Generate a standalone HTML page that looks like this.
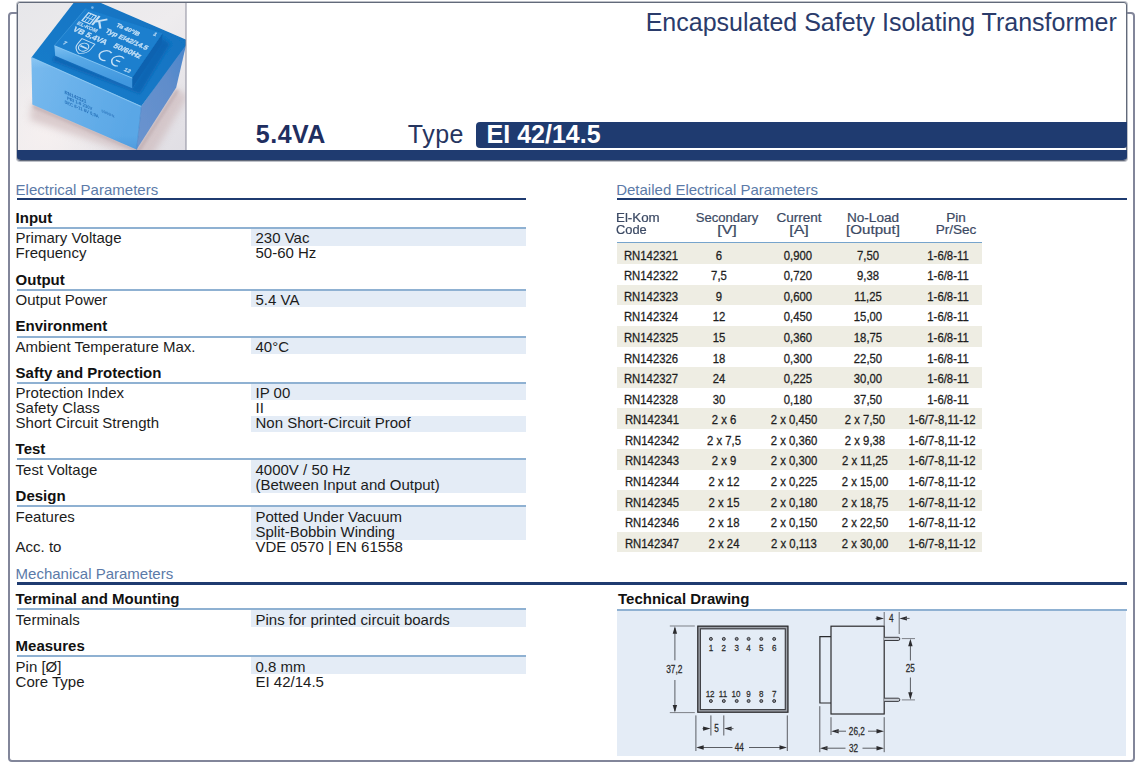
<!DOCTYPE html>
<html><head><meta charset="utf-8"><title>Encapsulated Safety Isolating Transformer</title>
<style>
html,body{margin:0;padding:0;background:#fff;}
body{width:1144px;height:772px;position:relative;overflow:hidden;font-family:"Liberation Sans",sans-serif;}
.t{position:absolute;white-space:nowrap;}
.r{position:absolute;}
.n{position:absolute;white-space:nowrap;font-size:13.33px;line-height:14px;color:#1e1e1e;transform:translateX(-50%) scaleX(0.85);-webkit-text-stroke:0.3px #1e1e1e;}
.h{position:absolute;white-space:nowrap;font-size:12px;line-height:12px;color:#3b4963;text-align:center;-webkit-text-stroke:0.2px #3b4963;}
</style></head><body>

<div class="r" style="left:8px;top:12px;width:1123px;height:746px;border:2px solid #82869a;border-radius:4px;"></div>
<div class="r" style="left:17px;top:2px;width:1108px;height:157px;border:1px solid #626a7a;border-radius:3px;background:#fff;box-shadow:0 0 0 1px rgba(125,132,146,0.5);"></div>
<svg class="r" style="left:18px;top:3px;border-radius:2px 0 0 0;" width="169" height="147" viewBox="18 3 169 147" font-family="Liberation Sans, sans-serif">
<defs>
<linearGradient id="bg" x1="0" y1="0" x2="1" y2="1"><stop offset="0" stop-color="#e7e7ea"/><stop offset="0.5" stop-color="#eeecee"/><stop offset="1" stop-color="#e0dee4"/></linearGradient>
<linearGradient id="front" x1="0" y1="0" x2="1" y2="0.3"><stop offset="0" stop-color="#78baee"/><stop offset="0.5" stop-color="#68b0ea"/><stop offset="1" stop-color="#5aa7e6"/></linearGradient>
<linearGradient id="frontv" x1="0" y1="0" x2="0" y2="1"><stop offset="0" stop-color="#9bd0f6" stop-opacity="0.55"/><stop offset="0.12" stop-color="#9bd0f6" stop-opacity="0"/><stop offset="0.85" stop-color="#3a86cf" stop-opacity="0"/><stop offset="1" stop-color="#3a86cf" stop-opacity="0.35"/></linearGradient>
<linearGradient id="right" x1="0" y1="1" x2="1" y2="0"><stop offset="0" stop-color="#6b94cf"/><stop offset="0.6" stop-color="#608dcb"/><stop offset="1" stop-color="#4785cc"/></linearGradient>
<linearGradient id="top" x1="0" y1="1" x2="1" y2="0"><stop offset="0" stop-color="#187ecc"/><stop offset="1" stop-color="#1071c0"/></linearGradient>
<linearGradient id="bfront" x1="0" y1="0" x2="0.15" y2="1"><stop offset="0" stop-color="#7cc0f2"/><stop offset="0.35" stop-color="#57a8e6"/><stop offset="1" stop-color="#3f96de"/></linearGradient>
<filter id="b0" x="-10%" y="-10%" width="120%" height="120%"><feGaussianBlur stdDeviation="0.42"/></filter>
<filter id="b1" x="-10%" y="-10%" width="120%" height="120%"><feGaussianBlur stdDeviation="0.55"/></filter>
<filter id="b3" x="-30%" y="-30%" width="160%" height="160%"><feGaussianBlur stdDeviation="3.5"/></filter>
<filter id="b2" x="-30%" y="-30%" width="160%" height="160%"><feGaussianBlur stdDeviation="1.6"/></filter>
<radialGradient id="hl" cx="45" cy="135" r="70" gradientUnits="userSpaceOnUse"><stop offset="0" stop-color="#f6f0f0" stop-opacity="0.95"/><stop offset="1" stop-color="#f6f0f0" stop-opacity="0"/></radialGradient>
<clipPath id="cp"><rect x="18" y="3" width="168" height="147"/></clipPath>
</defs>
<g clip-path="url(#cp)">
<rect x="18" y="3" width="169" height="147" fill="url(#bg)"/><rect x="18" y="3" width="169" height="147" fill="url(#hl)"/>
<polygon points="32,102 137,148 176,89 188,96 150,160 30,120" fill="#c9b4b6" opacity="0.6" filter="url(#b3)"/>
<polygon points="33,104 137,149 176,89 179,91 139,153 33,108" fill="#b09a9e" opacity="0.55" filter="url(#b2)"/>
<g filter="url(#b1)">
<polygon points="31.4,57.4 141.3,106.3 136.6,149.6 32.3,104.6" fill="url(#front)"/>
<polygon points="31.4,57.4 141.3,106.3 136.6,149.6 32.3,104.6" fill="url(#frontv)"/>
<polygon points="141.3,106.3 187,41 182.6,60 176.2,87.5 136.6,149.6" fill="url(#right)"/>
<polygon points="31.4,57.4 80.4,-5.9 189,41 141.3,106.3" fill="url(#top)"/>
<polygon points="55,55 132,88 162,38 170,44 140,94 52,61" fill="#0d5aa8" opacity="0.6" filter="url(#b2)"/>
<polygon points="132.2,77.8 162.6,33.2 161.6,43.6 132.2,88.2" fill="#1162b0"/>
<polygon points="54.4,45.5 132.2,77.8 132.2,88.2 55.2,55.8" fill="url(#bfront)"/>
<polygon points="54.4,45.5 85.7,8.6 162.6,33.2 132.2,77.8" fill="#1a7fce"/>
<polyline points="31.4,57.6 141.3,106.5" stroke="#8fcaf5" stroke-width="1.1" fill="none" opacity="0.8"/>
<polyline points="54.4,45.7 132.2,78" stroke="#8ccaf6" stroke-width="1" fill="none" opacity="0.85"/>
<polyline points="54.4,45.5 85.7,8.6" stroke="#4c9fe0" stroke-width="0.8" fill="none" opacity="0.7"/>
<polyline points="141.3,106.3 136.6,149.6" stroke="#3d83cc" stroke-width="1" fill="none" opacity="0.6"/>
</g>
<g filter="url(#b0)">
<text transform="matrix(0.917,0.40,0,1,64.5,93.8)" font-size="5.0" font-weight="bold" fill="#1c66b0" opacity="0.9">RN142321</text>
<text transform="matrix(0.917,0.40,0,1,67.0,99.4)" font-size="4.6" font-weight="bold" fill="#1c66b0" opacity="0.85">PRI 1-6 230V</text>
<text transform="matrix(0.917,0.40,0,1,64.5,103.2)" font-size="4.6" font-weight="bold" fill="#1c66b0" opacity="0.85">SEC 8-11 6V 0,9A</text>
<text transform="matrix(0.917,0.40,0,1,101.5,112.0)" font-size="3.8" font-weight="bold" fill="#1c66b0" opacity="0.75">50/60Hz</text>
</g>
<g filter="url(#b0)">
<text transform="matrix(0.917,0.40,-0.60,0.72,72.3,30.6)" font-size="8.2" font-weight="bold" fill="#d6eafa" stroke="#d6eafa" stroke-width="0.28" opacity="0.9" letter-spacing="0">VB 5.4VA</text>
<text transform="matrix(0.917,0.40,-0.60,0.72,104.8,32.0)" font-size="7.2" font-weight="bold" fill="#d6eafa" stroke="#d6eafa" stroke-width="0.28" opacity="0.9" letter-spacing="0">Typ EI42/14.5</text>
<text transform="matrix(0.917,0.40,-0.60,0.72,115.6,26.2)" font-size="6.4" font-weight="bold" fill="#d6eafa" stroke="#d6eafa" stroke-width="0.28" opacity="0.9" letter-spacing="0">Ta 40°/B</text>
<text transform="matrix(0.917,0.40,-0.60,0.72,112.8,47.0)" font-size="7.8" font-weight="bold" fill="#d6eafa" stroke="#d6eafa" stroke-width="0.28" opacity="0.9" letter-spacing="0">50/60Hz</text>
<text transform="matrix(0.917,0.40,-0.60,0.72,62.4,43.8)" font-size="5.5" font-weight="bold" fill="#d6eafa" stroke="#d6eafa" stroke-width="0.28" opacity="0.8" letter-spacing="0">7</text>
<text transform="matrix(0.917,0.40,-0.60,0.72,152.8,35.0)" font-size="5.5" font-weight="bold" fill="#d6eafa" stroke="#d6eafa" stroke-width="0.28" opacity="0.8" letter-spacing="0">1</text>
<text transform="matrix(0.917,0.40,-0.60,0.72,123.6,70.6)" font-size="5.5" font-weight="bold" fill="#d6eafa" stroke="#d6eafa" stroke-width="0.28" opacity="0.8" letter-spacing="0">12</text>
<text transform="matrix(0.917,0.40,-0.60,0.72,76.6,24.0)" font-size="5.4" font-weight="bold" fill="#d6eafa" stroke="#d6eafa" stroke-width="0.28" opacity="0.8" letter-spacing="0">EL-KOM</text>
<circle cx="92.4" cy="7.6" r="1.3" fill="#8fc4f0" opacity="0.8"/>
<g transform="matrix(0.917,0.40,-0.60,0.72,82.0,20.6)" fill="none" stroke="#d6eafa" stroke-width="1.3" opacity="0.9"><rect x="0" y="-11" width="8.5" height="11"/><path d="M2.8 -11V0 M5.7 -11V0 M0 -5.5H8.5" stroke-width="0.8"/><path d="M11 -12.5V0 M19.5 -12.5L11.6 -5 M14 -7.2L20 0" stroke-width="2"/></g>
<g transform="matrix(0.917,0.40,-0.60,0.72,82.0,38.6)" fill="none" stroke="#d6eafa" stroke-width="1" opacity="0.9"><path d="M0 0H14V7.5C14 12.5 10.5 15 7 16.5C3.5 15 0 12.5 0 7.5Z"/><ellipse cx="7" cy="8" rx="4.6" ry="5"/><path d="M3.5 8H10.5" stroke-width="1.8"/></g>
<g transform="matrix(0.83,0.36,-0.54,0.65,104.6,49.4)" fill="none" stroke="#d6eafa" stroke-width="1.6" opacity="0.9"><path d="M9 0.8A6.6 6.6 0 1 0 9 12.2"/><path d="M24 0.8A6.6 6.6 0 1 0 24 12.2 M18 6.5H23"/></g>
</g>
</g>
<rect x="185.5" y="3" width="1" height="147" fill="#8b8b9b"/>
</svg>
<div class="r" style="left:17.00px;top:150.00px;width:1110.00px;height:10.00px;background:#1f3b70;border-radius:0 0 4px 4px;"></div>
<div class="r" style="left:475.50px;top:122.20px;width:651.50px;height:25.60px;background:#1f3b70;border-radius:4px 0 3px 4px;"></div>
<div class="t" style="left:645.70px;top:9.64px;font-size:25px;line-height:25px;color:#2a3b6b;">Encapsulated Safety Isolating Transformer</div>
<div class="t" style="left:255.80px;top:121.84px;font-size:25px;line-height:25px;color:#1f2e60;font-weight:bold;letter-spacing:0.5px;">5.4VA</div>
<div class="t" style="left:407.80px;top:121.84px;font-size:25px;line-height:25px;color:#26355f;letter-spacing:0.5px;">Type</div>
<div class="t" style="left:486.60px;top:122.24px;font-size:25px;line-height:25px;color:#ffffff;font-weight:bold;">EI 42/14.5</div>
<div class="t" style="left:15.60px;top:182.10px;font-size:15px;line-height:15px;color:#5b7aa8;">Electrical Parameters</div>
<div class="r" style="left:17.00px;top:198.00px;width:509.00px;height:2.20px;background:#1f3b70;"></div>
<div class="t" style="left:616.20px;top:181.80px;font-size:15px;line-height:15px;color:#5b7aa8;">Detailed Electrical Parameters</div>
<div class="r" style="left:617.00px;top:197.80px;width:510.00px;height:2.40px;background:#1f3b70;"></div>
<div class="t" style="left:15.60px;top:565.60px;font-size:15px;line-height:15px;color:#5b7aa8;">Mechanical Parameters</div>
<div class="r" style="left:17.00px;top:582.20px;width:1110.00px;height:2.40px;background:#1f3b70;"></div>
<div class="t" style="left:15.60px;top:210.00px;font-size:15px;line-height:15px;color:#111;font-weight:bold;">Input</div>
<div class="r" style="left:17.00px;top:227.10px;width:509.00px;height:2.00px;background:#8fb1d2;"></div>
<div class="r" style="left:251.00px;top:229.10px;width:275.00px;height:16.50px;background:#e4ecf6;"></div>
<div class="t" style="left:15.60px;top:230.20px;font-size:15px;line-height:15px;color:#1c1c1c;">Primary Voltage</div>
<div class="t" style="left:255.50px;top:230.20px;font-size:15px;line-height:15px;color:#1c1c1c;">230 Vac</div>
<div class="t" style="left:15.60px;top:245.20px;font-size:15px;line-height:15px;color:#1c1c1c;">Frequency</div>
<div class="t" style="left:255.50px;top:245.20px;font-size:15px;line-height:15px;color:#1c1c1c;">50-60 Hz</div>
<div class="t" style="left:15.60px;top:271.70px;font-size:15px;line-height:15px;color:#111;font-weight:bold;">Output</div>
<div class="r" style="left:17.00px;top:288.80px;width:509.00px;height:2.00px;background:#8fb1d2;"></div>
<div class="r" style="left:251.00px;top:290.80px;width:275.00px;height:16.50px;background:#e4ecf6;"></div>
<div class="t" style="left:15.60px;top:291.90px;font-size:15px;line-height:15px;color:#1c1c1c;">Output Power</div>
<div class="t" style="left:255.50px;top:291.90px;font-size:15px;line-height:15px;color:#1c1c1c;">5.4 VA</div>
<div class="t" style="left:15.60px;top:318.40px;font-size:15px;line-height:15px;color:#111;font-weight:bold;">Environment</div>
<div class="r" style="left:17.00px;top:335.50px;width:509.00px;height:2.00px;background:#8fb1d2;"></div>
<div class="r" style="left:251.00px;top:337.50px;width:275.00px;height:16.50px;background:#e4ecf6;"></div>
<div class="t" style="left:15.60px;top:338.60px;font-size:15px;line-height:15px;color:#1c1c1c;">Ambient Temperature Max.</div>
<div class="t" style="left:255.50px;top:338.60px;font-size:15px;line-height:15px;color:#1c1c1c;">40°C</div>
<div class="t" style="left:15.60px;top:364.70px;font-size:15px;line-height:15px;color:#111;font-weight:bold;">Safty and Protection</div>
<div class="r" style="left:17.00px;top:381.80px;width:509.00px;height:2.00px;background:#8fb1d2;"></div>
<div class="r" style="left:251.00px;top:383.80px;width:275.00px;height:16.50px;background:#e4ecf6;"></div>
<div class="r" style="left:251.00px;top:415.80px;width:275.00px;height:16.50px;background:#e4ecf6;"></div>
<div class="t" style="left:15.60px;top:384.90px;font-size:15px;line-height:15px;color:#1c1c1c;">Protection Index</div>
<div class="t" style="left:255.50px;top:384.90px;font-size:15px;line-height:15px;color:#1c1c1c;">IP 00</div>
<div class="t" style="left:15.60px;top:399.90px;font-size:15px;line-height:15px;color:#1c1c1c;">Safety Class</div>
<div class="t" style="left:255.50px;top:399.90px;font-size:15px;line-height:15px;color:#1c1c1c;">II</div>
<div class="t" style="left:15.60px;top:414.90px;font-size:15px;line-height:15px;color:#1c1c1c;">Short Circuit Strength</div>
<div class="t" style="left:255.50px;top:414.90px;font-size:15px;line-height:15px;color:#1c1c1c;">Non Short-Circuit Proof</div>
<div class="t" style="left:15.60px;top:441.30px;font-size:15px;line-height:15px;color:#111;font-weight:bold;">Test</div>
<div class="r" style="left:17.00px;top:458.40px;width:509.00px;height:2.00px;background:#8fb1d2;"></div>
<div class="r" style="left:251.00px;top:460.40px;width:275.00px;height:33.00px;background:#e4ecf6;"></div>
<div class="t" style="left:15.60px;top:461.50px;font-size:15px;line-height:15px;color:#1c1c1c;">Test Voltage</div>
<div class="t" style="left:255.50px;top:461.50px;font-size:15px;line-height:15px;color:#1c1c1c;">4000V / 50 Hz</div>
<div class="t" style="left:255.50px;top:476.50px;font-size:15px;line-height:15px;color:#1c1c1c;">(Between Input and Output)</div>
<div class="t" style="left:15.60px;top:488.30px;font-size:15px;line-height:15px;color:#111;font-weight:bold;">Design</div>
<div class="r" style="left:17.00px;top:505.40px;width:509.00px;height:2.00px;background:#8fb1d2;"></div>
<div class="r" style="left:251.00px;top:507.40px;width:275.00px;height:33.00px;background:#e4ecf6;"></div>
<div class="t" style="left:15.60px;top:508.50px;font-size:15px;line-height:15px;color:#1c1c1c;">Features</div>
<div class="t" style="left:255.50px;top:508.50px;font-size:15px;line-height:15px;color:#1c1c1c;">Potted Under Vacuum</div>
<div class="t" style="left:255.50px;top:523.50px;font-size:15px;line-height:15px;color:#1c1c1c;">Split-Bobbin Winding</div>
<div class="t" style="left:15.60px;top:538.50px;font-size:15px;line-height:15px;color:#1c1c1c;">Acc. to</div>
<div class="t" style="left:255.50px;top:538.50px;font-size:15px;line-height:15px;color:#1c1c1c;">VDE 0570 | EN 61558</div>
<div class="t" style="left:15.60px;top:591.30px;font-size:15px;line-height:15px;color:#111;font-weight:bold;">Terminal and Mounting</div>
<div class="r" style="left:17.00px;top:608.40px;width:509.00px;height:2.00px;background:#8fb1d2;"></div>
<div class="r" style="left:251.00px;top:610.40px;width:275.00px;height:16.50px;background:#e4ecf6;"></div>
<div class="t" style="left:15.60px;top:611.50px;font-size:15px;line-height:15px;color:#1c1c1c;">Terminals</div>
<div class="t" style="left:255.50px;top:611.50px;font-size:15px;line-height:15px;color:#1c1c1c;">Pins for printed circuit boards</div>
<div class="t" style="left:15.60px;top:638.30px;font-size:15px;line-height:15px;color:#111;font-weight:bold;">Measures</div>
<div class="r" style="left:17.00px;top:655.40px;width:509.00px;height:2.00px;background:#8fb1d2;"></div>
<div class="r" style="left:251.00px;top:657.40px;width:275.00px;height:16.50px;background:#e4ecf6;"></div>
<div class="t" style="left:15.60px;top:658.50px;font-size:15px;line-height:15px;color:#1c1c1c;">Pin [Ø]</div>
<div class="t" style="left:255.50px;top:658.50px;font-size:15px;line-height:15px;color:#1c1c1c;">0.8 mm</div>
<div class="t" style="left:15.60px;top:673.50px;font-size:15px;line-height:15px;color:#1c1c1c;">Core Type</div>
<div class="t" style="left:255.50px;top:673.50px;font-size:15px;line-height:15px;color:#1c1c1c;">EI 42/14.5</div>
<div class="t" style="left:618.00px;top:591.00px;font-size:15px;line-height:15px;color:#111;font-weight:bold;">Technical Drawing</div>
<div class="r" style="left:617.00px;top:608.90px;width:510.00px;height:2.00px;background:#8fb1d2;"></div>
<div class="r" style="left:617.00px;top:610.90px;width:509.00px;height:145.30px;background:#e4ecf6;"></div>
<div class="h" style="left:616.20px;top:212.04px;transform-origin:0 50%;transform:scaleX(1.11);">El-Kom</div>
<div class="h" style="left:616.20px;top:224.24px;transform-origin:0 50%;transform:scaleX(1.07);">Code</div>
<div class="h" style="left:726.50px;top:212.04px;transform:translateX(-50%) scaleX(1.09);">Secondary</div>
<div class="h" style="left:726.80px;top:224.24px;transform:translateX(-50%) scaleX(1.34);">[V]</div>
<div class="h" style="left:799.00px;top:212.04px;transform:translateX(-50%) scaleX(1.13);">Current</div>
<div class="h" style="left:799.20px;top:224.24px;transform:translateX(-50%) scaleX(1.34);">[A]</div>
<div class="h" style="left:872.60px;top:212.04px;transform:translateX(-50%) scaleX(1.13);">No-Load</div>
<div class="h" style="left:872.80px;top:224.24px;transform:translateX(-50%) scaleX(1.26);">[Output]</div>
<div class="h" style="left:956.00px;top:212.04px;transform:translateX(-50%) scaleX(1.13);">Pin</div>
<div class="h" style="left:956.00px;top:224.24px;transform:translateX(-50%) scaleX(1.13);">Pr/Sec</div>
<div class="r" style="left:617.00px;top:241.80px;width:365.00px;height:1.40px;background:#76a4cc;"></div>
<div class="r" style="left:617.00px;top:243.40px;width:365.00px;height:20.88px;background:#eeede3;"></div>
<div class="n" style="left:651.00px;top:248.60px;">RN142321</div>
<div class="n" style="left:719.10px;top:248.60px;">6</div>
<div class="n" style="left:797.50px;top:248.60px;">0,900</div>
<div class="n" style="left:867.50px;top:248.60px;">7,50</div>
<div class="n" style="left:947.70px;top:248.60px;">1-6/8-11</div>
<div class="n" style="left:651.00px;top:269.18px;">RN142322</div>
<div class="n" style="left:719.10px;top:269.18px;">7,5</div>
<div class="n" style="left:797.50px;top:269.18px;">0,720</div>
<div class="n" style="left:867.50px;top:269.18px;">9,38</div>
<div class="n" style="left:947.70px;top:269.18px;">1-6/8-11</div>
<div class="r" style="left:617.00px;top:284.56px;width:365.00px;height:20.88px;background:#eeede3;"></div>
<div class="n" style="left:651.00px;top:289.76px;">RN142323</div>
<div class="n" style="left:719.10px;top:289.76px;">9</div>
<div class="n" style="left:797.50px;top:289.76px;">0,600</div>
<div class="n" style="left:867.50px;top:289.76px;">11,25</div>
<div class="n" style="left:947.70px;top:289.76px;">1-6/8-11</div>
<div class="n" style="left:651.00px;top:310.34px;">RN142324</div>
<div class="n" style="left:719.10px;top:310.34px;">12</div>
<div class="n" style="left:797.50px;top:310.34px;">0,450</div>
<div class="n" style="left:867.50px;top:310.34px;">15,00</div>
<div class="n" style="left:947.70px;top:310.34px;">1-6/8-11</div>
<div class="r" style="left:617.00px;top:325.72px;width:365.00px;height:20.88px;background:#eeede3;"></div>
<div class="n" style="left:651.00px;top:330.92px;">RN142325</div>
<div class="n" style="left:719.10px;top:330.92px;">15</div>
<div class="n" style="left:797.50px;top:330.92px;">0,360</div>
<div class="n" style="left:867.50px;top:330.92px;">18,75</div>
<div class="n" style="left:947.70px;top:330.92px;">1-6/8-11</div>
<div class="n" style="left:651.00px;top:351.50px;">RN142326</div>
<div class="n" style="left:719.10px;top:351.50px;">18</div>
<div class="n" style="left:797.50px;top:351.50px;">0,300</div>
<div class="n" style="left:867.50px;top:351.50px;">22,50</div>
<div class="n" style="left:947.70px;top:351.50px;">1-6/8-11</div>
<div class="r" style="left:617.00px;top:366.88px;width:365.00px;height:20.88px;background:#eeede3;"></div>
<div class="n" style="left:651.00px;top:372.08px;">RN142327</div>
<div class="n" style="left:719.10px;top:372.08px;">24</div>
<div class="n" style="left:797.50px;top:372.08px;">0,225</div>
<div class="n" style="left:867.50px;top:372.08px;">30,00</div>
<div class="n" style="left:947.70px;top:372.08px;">1-6/8-11</div>
<div class="n" style="left:651.00px;top:392.66px;">RN142328</div>
<div class="n" style="left:719.10px;top:392.66px;">30</div>
<div class="n" style="left:797.50px;top:392.66px;">0,180</div>
<div class="n" style="left:867.50px;top:392.66px;">37,50</div>
<div class="n" style="left:947.70px;top:392.66px;">1-6/8-11</div>
<div class="r" style="left:617.00px;top:408.04px;width:365.00px;height:20.88px;background:#eeede3;"></div>
<div class="n" style="left:652.30px;top:413.24px;">RN142341</div>
<div class="n" style="left:723.60px;top:413.24px;">2 x 6</div>
<div class="n" style="left:794.40px;top:413.24px;">2 x 0,450</div>
<div class="n" style="left:865.40px;top:413.24px;">2 x 7,50</div>
<div class="n" style="left:941.80px;top:413.24px;">1-6/7-8,11-12</div>
<div class="n" style="left:652.30px;top:433.82px;">RN142342</div>
<div class="n" style="left:723.60px;top:433.82px;">2 x 7,5</div>
<div class="n" style="left:794.40px;top:433.82px;">2 x 0,360</div>
<div class="n" style="left:865.40px;top:433.82px;">2 x 9,38</div>
<div class="n" style="left:941.80px;top:433.82px;">1-6/7-8,11-12</div>
<div class="r" style="left:617.00px;top:449.20px;width:365.00px;height:20.88px;background:#eeede3;"></div>
<div class="n" style="left:652.30px;top:454.40px;">RN142343</div>
<div class="n" style="left:723.60px;top:454.40px;">2 x 9</div>
<div class="n" style="left:794.40px;top:454.40px;">2 x 0,300</div>
<div class="n" style="left:865.40px;top:454.40px;">2 x 11,25</div>
<div class="n" style="left:941.80px;top:454.40px;">1-6/7-8,11-12</div>
<div class="n" style="left:652.30px;top:474.98px;">RN142344</div>
<div class="n" style="left:723.60px;top:474.98px;">2 x 12</div>
<div class="n" style="left:794.40px;top:474.98px;">2 x 0,225</div>
<div class="n" style="left:865.40px;top:474.98px;">2 x 15,00</div>
<div class="n" style="left:941.80px;top:474.98px;">1-6/7-8,11-12</div>
<div class="r" style="left:617.00px;top:490.36px;width:365.00px;height:20.88px;background:#eeede3;"></div>
<div class="n" style="left:652.30px;top:495.56px;">RN142345</div>
<div class="n" style="left:723.60px;top:495.56px;">2 x 15</div>
<div class="n" style="left:794.40px;top:495.56px;">2 x 0,180</div>
<div class="n" style="left:865.40px;top:495.56px;">2 x 18,75</div>
<div class="n" style="left:941.80px;top:495.56px;">1-6/7-8,11-12</div>
<div class="n" style="left:652.30px;top:516.14px;">RN142346</div>
<div class="n" style="left:723.60px;top:516.14px;">2 x 18</div>
<div class="n" style="left:794.40px;top:516.14px;">2 x 0,150</div>
<div class="n" style="left:865.40px;top:516.14px;">2 x 22,50</div>
<div class="n" style="left:941.80px;top:516.14px;">1-6/7-8,11-12</div>
<div class="r" style="left:617.00px;top:531.52px;width:365.00px;height:20.88px;background:#eeede3;"></div>
<div class="n" style="left:652.30px;top:536.72px;">RN142347</div>
<div class="n" style="left:723.60px;top:536.72px;">2 x 24</div>
<div class="n" style="left:794.40px;top:536.72px;">2 x 0,113</div>
<div class="n" style="left:865.40px;top:536.72px;">2 x 30,00</div>
<div class="n" style="left:941.80px;top:536.72px;">1-6/7-8,11-12</div>
<svg class="r" style="left:617px;top:611px;" width="510" height="146" viewBox="617 611 510 146" font-family="Liberation Sans, sans-serif">
<rect x="699.0" y="627.4" width="87.69999999999996" height="83.59999999999994" fill="none" stroke="#9da1a8" stroke-width="3.6"/>
<rect x="697.8000000000001" y="626.2" width="90.09999999999995" height="85.99999999999993" fill="none" stroke="#2b2b2e" stroke-width="1.2"/>
<rect x="700.4000000000001" y="628.8000000000001" width="84.89999999999995" height="80.79999999999993" fill="none" stroke="#3c3d42" stroke-width="1.1"/>
<circle cx="710.9" cy="638.9" r="1.5" fill="#8c9098" stroke="#3a3a3e" stroke-width="1"/>
<circle cx="710.9" cy="701.0" r="1.5" fill="#8c9098" stroke="#3a3a3e" stroke-width="1"/>
<text transform="translate(710.9,651.4) scale(0.82,1)" text-anchor="middle" font-size="9.8" fill="#2a2a2a" stroke="#2a2a2a" stroke-width="0.25">1</text>
<text transform="translate(710.1,696.6) scale(0.82,1)" text-anchor="middle" font-size="9.8" fill="#2a2a2a" stroke="#2a2a2a" stroke-width="0.25">12</text>
<circle cx="723.8" cy="638.9" r="1.5" fill="#8c9098" stroke="#3a3a3e" stroke-width="1"/>
<circle cx="723.8" cy="701.0" r="1.5" fill="#8c9098" stroke="#3a3a3e" stroke-width="1"/>
<text transform="translate(723.8,651.4) scale(0.82,1)" text-anchor="middle" font-size="9.8" fill="#2a2a2a" stroke="#2a2a2a" stroke-width="0.25">2</text>
<text transform="translate(723.0,696.6) scale(0.82,1)" text-anchor="middle" font-size="9.8" fill="#2a2a2a" stroke="#2a2a2a" stroke-width="0.25">11</text>
<circle cx="736.7" cy="638.9" r="1.5" fill="#8c9098" stroke="#3a3a3e" stroke-width="1"/>
<circle cx="736.7" cy="701.0" r="1.5" fill="#8c9098" stroke="#3a3a3e" stroke-width="1"/>
<text transform="translate(736.7,651.4) scale(0.82,1)" text-anchor="middle" font-size="9.8" fill="#2a2a2a" stroke="#2a2a2a" stroke-width="0.25">3</text>
<text transform="translate(735.9000000000001,696.6) scale(0.82,1)" text-anchor="middle" font-size="9.8" fill="#2a2a2a" stroke="#2a2a2a" stroke-width="0.25">10</text>
<circle cx="748.6" cy="638.9" r="1.5" fill="#8c9098" stroke="#3a3a3e" stroke-width="1"/>
<circle cx="748.6" cy="701.0" r="1.5" fill="#8c9098" stroke="#3a3a3e" stroke-width="1"/>
<text transform="translate(748.6,651.4) scale(0.82,1)" text-anchor="middle" font-size="9.8" fill="#2a2a2a" stroke="#2a2a2a" stroke-width="0.25">4</text>
<text transform="translate(748.6,696.6) scale(0.82,1)" text-anchor="middle" font-size="9.8" fill="#2a2a2a" stroke="#2a2a2a" stroke-width="0.25">9</text>
<circle cx="761.3" cy="638.9" r="1.5" fill="#8c9098" stroke="#3a3a3e" stroke-width="1"/>
<circle cx="761.3" cy="701.0" r="1.5" fill="#8c9098" stroke="#3a3a3e" stroke-width="1"/>
<text transform="translate(761.3,651.4) scale(0.82,1)" text-anchor="middle" font-size="9.8" fill="#2a2a2a" stroke="#2a2a2a" stroke-width="0.25">5</text>
<text transform="translate(761.3,696.6) scale(0.82,1)" text-anchor="middle" font-size="9.8" fill="#2a2a2a" stroke="#2a2a2a" stroke-width="0.25">8</text>
<circle cx="774.2" cy="638.9" r="1.5" fill="#8c9098" stroke="#3a3a3e" stroke-width="1"/>
<circle cx="774.2" cy="701.0" r="1.5" fill="#8c9098" stroke="#3a3a3e" stroke-width="1"/>
<text transform="translate(774.2,651.4) scale(0.82,1)" text-anchor="middle" font-size="9.8" fill="#2a2a2a" stroke="#2a2a2a" stroke-width="0.25">6</text>
<text transform="translate(774.2,696.6) scale(0.82,1)" text-anchor="middle" font-size="9.8" fill="#2a2a2a" stroke="#2a2a2a" stroke-width="0.25">7</text>
<line x1="669.8" y1="626" x2="694.8" y2="626" stroke="#7d8087" stroke-width="1"/>
<line x1="669.8" y1="712.6" x2="694.8" y2="712.6" stroke="#7d8087" stroke-width="1"/>
<line x1="674.9" y1="628" x2="674.9" y2="660.3" stroke="#5a5d63" stroke-width="1"/>
<line x1="674.9" y1="680" x2="674.9" y2="711" stroke="#5a5d63" stroke-width="1"/>
<polygon points="674.9,626.2 672.7,633.7 677.1,633.7" fill="#2b2b2e"/>
<polygon points="674.9,712.6 672.7,705.1 677.1,705.1" fill="#2b2b2e"/>
<text transform="translate(674.3,672.9) scale(0.82,1)" text-anchor="middle" font-size="10.2" fill="#2a2a2a" stroke="#2a2a2a" stroke-width="0.25">37,2</text>
<line x1="695.9" y1="715.4" x2="695.9" y2="751" stroke="#5a5d63" stroke-width="1"/>
<line x1="787.3" y1="715.4" x2="787.3" y2="751" stroke="#5a5d63" stroke-width="1"/>
<line x1="710.9" y1="715.4" x2="710.9" y2="735.5" stroke="#5a5d63" stroke-width="1"/>
<line x1="723.8" y1="715.4" x2="723.8" y2="735.5" stroke="#5a5d63" stroke-width="1"/>
<line x1="702.5" y1="728.6" x2="706" y2="728.6" stroke="#5a5d63" stroke-width="1"/>
<polygon points="710.6,728.6 703.1,726.4 703.1,730.8" fill="#2b2b2e"/>
<polygon points="724.1,728.6 731.6,726.4 731.6,730.8" fill="#2b2b2e"/>
<line x1="729" y1="728.6" x2="733.5" y2="728.6" stroke="#5a5d63" stroke-width="1"/>
<text transform="translate(716.6,732.2) scale(0.82,1)" text-anchor="middle" font-size="10" fill="#2a2a2a" stroke="#2a2a2a" stroke-width="0.25">5</text>
<line x1="698" y1="747.5" x2="732.5" y2="747.5" stroke="#5a5d63" stroke-width="1"/>
<line x1="749" y1="747.5" x2="785" y2="747.5" stroke="#5a5d63" stroke-width="1"/>
<polygon points="696.2,747.5 703.7,745.3 703.7,749.7" fill="#2b2b2e"/>
<polygon points="787.0,747.5 779.5,745.3 779.5,749.7" fill="#2b2b2e"/>
<text transform="translate(739.2,751.2) scale(0.82,1)" text-anchor="middle" font-size="10" fill="#2a2a2a" stroke="#2a2a2a" stroke-width="0.25">44</text>
<rect x="831.0" y="626.2" width="53.200000000000045" height="87.79999999999995" fill="none" stroke="#2b2b2e" stroke-width="1.2"/>
<path d="M831.0 636.7 H819.9 V703.0 H831.0" fill="none" stroke="#2b2b2e" stroke-width="1.2"/>
<path d="M884.2 637.3 H898.2 a1.6 1.6 0 0 1 0 3.2 H884.2" fill="#c9ced6" stroke="#3a3b40" stroke-width="1"/>
<path d="M884.2 698.1999999999999 H898.2 a1.6 1.6 0 0 1 0 3.2 H884.2" fill="#c9ced6" stroke="#3a3b40" stroke-width="1"/>
<line x1="884.2" y1="612" x2="884.2" y2="626" stroke="#6a6d73" stroke-width="1"/>
<line x1="899.2" y1="612" x2="899.2" y2="634" stroke="#6a6d73" stroke-width="1"/>
<line x1="875.5" y1="618.4" x2="879" y2="618.4" stroke="#5a5d63" stroke-width="1"/>
<polygon points="884.0,618.4 876.5,616.2 876.5,620.6" fill="#2b2b2e"/>
<polygon points="899.4,618.4 906.9,616.2 906.9,620.6" fill="#2b2b2e"/>
<line x1="905" y1="618.4" x2="909.6" y2="618.4" stroke="#5a5d63" stroke-width="1"/>
<text transform="translate(891.2,622.2) scale(0.82,1)" text-anchor="middle" font-size="10" fill="#2a2a2a" stroke="#2a2a2a" stroke-width="0.25">4</text>
<line x1="901.8" y1="638.6" x2="915" y2="638.6" stroke="#7d8087" stroke-width="1"/>
<line x1="901.8" y1="699.9" x2="915" y2="699.9" stroke="#7d8087" stroke-width="1"/>
<line x1="910.4" y1="641" x2="910.4" y2="660.5" stroke="#5a5d63" stroke-width="1"/>
<line x1="910.4" y1="677.5" x2="910.4" y2="697.5" stroke="#5a5d63" stroke-width="1"/>
<polygon points="910.4,638.8 908.2,646.3 912.6,646.3" fill="#2b2b2e"/>
<polygon points="910.4,699.8 908.2,692.3 912.6,692.3" fill="#2b2b2e"/>
<text transform="translate(910.2,672.2) scale(0.82,1)" text-anchor="middle" font-size="10" fill="#2a2a2a" stroke="#2a2a2a" stroke-width="0.25">25</text>
<line x1="819.8" y1="706.2" x2="819.8" y2="752.2" stroke="#5a5d63" stroke-width="1"/>
<line x1="831" y1="717.2" x2="831" y2="735" stroke="#5a5d63" stroke-width="1"/>
<line x1="884.2" y1="717.2" x2="884.2" y2="752.2" stroke="#5a5d63" stroke-width="1"/>
<polygon points="831.2,731.2 838.7,729.0 838.7,733.4" fill="#2b2b2e"/>
<line x1="836" y1="731.2" x2="846" y2="731.2" stroke="#5a5d63" stroke-width="1"/>
<line x1="868" y1="731.2" x2="879" y2="731.2" stroke="#5a5d63" stroke-width="1"/>
<polygon points="884.0,731.2 876.5,729.0 876.5,733.4" fill="#2b2b2e"/>
<text transform="translate(856.8,735) scale(0.82,1)" text-anchor="middle" font-size="10" fill="#2a2a2a" stroke="#2a2a2a" stroke-width="0.25">26,2</text>
<polygon points="820.0,748.2 827.5,746.0 827.5,750.4" fill="#2b2b2e"/>
<line x1="825" y1="748.2" x2="845.5" y2="748.2" stroke="#5a5d63" stroke-width="1"/>
<line x1="862.5" y1="748.2" x2="879" y2="748.2" stroke="#5a5d63" stroke-width="1"/>
<polygon points="884.0,748.2 876.5,746.0 876.5,750.4" fill="#2b2b2e"/>
<text transform="translate(853.6,752) scale(0.82,1)" text-anchor="middle" font-size="10" fill="#2a2a2a" stroke="#2a2a2a" stroke-width="0.25">32</text>
</svg>
</body></html>
